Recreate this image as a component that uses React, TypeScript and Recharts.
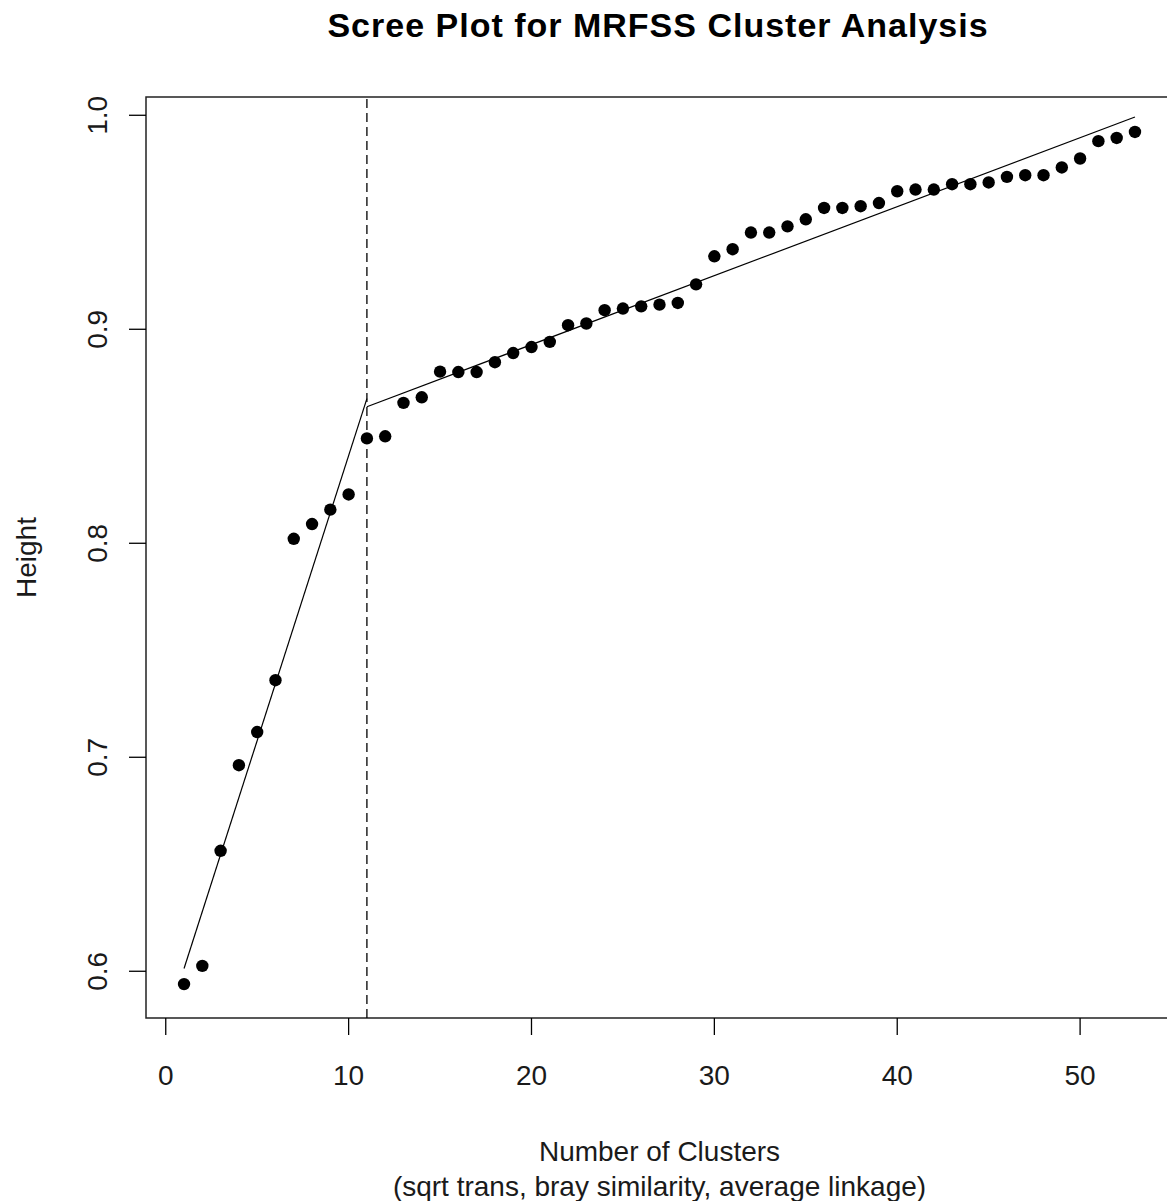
import React from 'react';
import {
  ComposedChart,
  Scatter,
  Line,
  XAxis,
  YAxis,
  ReferenceLine,
  ReferenceArea,
} from 'recharts';

// ---- data ----
const clusters = [
  1, 2, 3, 4, 5, 6, 7, 8, 9, 10, 11, 12, 13, 14, 15, 16, 17, 18, 19, 20, 21, 22, 23, 24, 25, 26,
  27, 28, 29, 30, 31, 32, 33, 34, 35, 36, 37, 38, 39, 40, 41, 42, 43, 44, 45, 46, 47, 48, 49, 50,
  51, 52, 53,
];
const heights = [
  0.594, 0.6025, 0.6563, 0.6963, 0.7118, 0.736, 0.8021, 0.809, 0.8157, 0.8228, 0.849, 0.85,
  0.8656, 0.8682, 0.8802, 0.88, 0.88, 0.8846, 0.8889, 0.8917, 0.8941, 0.9019, 0.9027, 0.9089,
  0.9097, 0.9107, 0.9115, 0.9123, 0.921, 0.9341, 0.9374, 0.9452, 0.9452, 0.9481, 0.9514, 0.9567,
  0.9567, 0.9575, 0.959, 0.9645, 0.9653, 0.9653, 0.9678, 0.9678, 0.9686, 0.9712, 0.972, 0.972,
  0.9756, 0.9798, 0.9879, 0.9894, 0.9922,
];
const fitLowX = [1, 11];
const fitLowY = [0.6013, 0.8676];
const fitHighX = [11, 53];
const fitHighY = [0.8638, 0.9992];
const breakPoint = 11;
const xTicks = [0, 10, 20, 30, 40, 50];
const yTicks = [0.6, 0.7, 0.8, 0.9, 1.0];
const yTickLabels = ['0.6', '0.7', '0.8', '0.9', '1.0'];
const xDomain: [number, number] = [-1.08, 55.08];
const yDomain: [number, number] = [0.57816, 1.00854];
const titleText = 'Scree Plot for MRFSS Cluster Analysis';
const xLabel1 = 'Number of Clusters';
const xLabel2 = '(sqrt trans, bray similarity, average linkage)';
const yLabel = 'Height';

const points = clusters.map((c, i) => ({ x: c, y: heights[i] }));
const fitLow = fitLowX.map((c, i) => ({ x: c, y: fitLowY[i] }));
const fitHigh = fitHighX.map((c, i) => ({ x: c, y: fitHighY[i] }));

const FONT = '"Liberation Sans", Arial, sans-serif';
const TEXT = '#1a1a1a';

const XTick = (props: any) => {
  const { x, y, payload } = props;
  return (
    <text x={x} y={y + 50} textAnchor="middle" fontFamily={FONT} fontSize={28} fill={TEXT}>
      {payload.value}
    </text>
  );
};

const YTick = (props: any) => {
  const { x, y, payload } = props;
  const idx = yTicks.findIndex((t) => Math.abs(t - payload.value) < 1e-9);
  const label = idx >= 0 ? yTickLabels[idx] : String(payload.value);
  const tx = x - 22;
  return (
    <text
      x={tx}
      y={y}
      transform={`rotate(-90, ${tx}, ${y})`}
      textAnchor="middle"
      fontFamily={FONT}
      fontSize={28}
      fill={TEXT}
    >
      {label}
    </text>
  );
};

const XLabel = (props: any) => {
  const vb = props.viewBox || {};
  const cx = vb.x + vb.width / 2;
  return (
    <g>
      <text x={cx} y={vb.y + 143} textAnchor="middle" fontFamily={FONT} fontSize={28} fill={TEXT}>
        {xLabel1}
      </text>
      <text x={cx} y={vb.y + 178} textAnchor="middle" fontFamily={FONT} fontSize={28} fill={TEXT}>
        {xLabel2}
      </text>
    </g>
  );
};

const YLabel = (props: any) => {
  const vb = props.viewBox || {};
  const tx = vb.x + 36;
  const ty = vb.y + vb.height / 2;
  return (
    <text
      x={tx}
      y={ty}
      transform={`rotate(-90, ${tx}, ${ty})`}
      textAnchor="middle"
      fontFamily={FONT}
      fontSize={28}
      fill={TEXT}
    >
      {yLabel}
    </text>
  );
};

const Dot = (props: any) => <circle cx={props.cx} cy={props.cy} r={6.2} fill="#000" />;

export default function App() {
  return (
    <div
      style={{
        position: 'absolute',
        left: 0,
        top: 0,
        width: 1167,
        height: 1201,
        overflow: 'hidden',
        background: '#fff',
      }}
    >
      <div
        style={{
          position: 'absolute',
          left: 0,
          width: 1316,
          top: 8,
          textAlign: 'center',
          fontFamily: FONT,
          fontWeight: 'bold',
          fontSize: 34,
          lineHeight: '34px',
          letterSpacing: 1,
          color: '#000',
          whiteSpace: 'nowrap',
        }}
      >
        {titleText}
      </div>
      <ComposedChart
        width={1180}
        height={1201}
        margin={{ top: 97, right: 7, bottom: 0, left: 0 }}
        style={{ position: 'absolute', left: 0, top: 0 }}
      >
        <XAxis
          type="number"
          dataKey="x"
          domain={xDomain}
          allowDataOverflow
          ticks={xTicks}
          interval={0}
          tick={<XTick />}
          tickSize={17}
          tickMargin={0}
          tickLine={{ stroke: '#000', strokeWidth: 1.3 }}
          axisLine={false}
          height={183}
          label={<XLabel />}
        />
        <YAxis
          type="number"
          dataKey="y"
          domain={yDomain}
          allowDataOverflow
          ticks={yTicks}
          interval={0}
          tick={<YTick />}
          tickSize={17}
          tickMargin={0}
          tickLine={{ stroke: '#000', strokeWidth: 1.3 }}
          axisLine={false}
          width={146}
          label={<YLabel />}
        />
        <ReferenceArea
          x1={xDomain[0]}
          x2={xDomain[1]}
          y1={yDomain[0]}
          y2={yDomain[1]}
          fill="none"
          fillOpacity={0}
          stroke="#222"
          strokeWidth={1.5}
          ifOverflow="visible"
        />
        <ReferenceLine
          x={breakPoint}
          stroke="#000"
          strokeWidth={1.3}
          strokeDasharray="9 5"
          ifOverflow="visible"
        />
        <Line
          data={fitLow}
          dataKey="y"
          type="linear"
          stroke="#000"
          strokeWidth={1.2}
          dot={false}
          activeDot={false}
          isAnimationActive={false}
        />
        <Line
          data={fitHigh}
          dataKey="y"
          type="linear"
          stroke="#000"
          strokeWidth={1.2}
          dot={false}
          activeDot={false}
          isAnimationActive={false}
        />
        <Scatter data={points} dataKey="y" shape={<Dot />} isAnimationActive={false} />
      </ComposedChart>
    </div>
  );
}
